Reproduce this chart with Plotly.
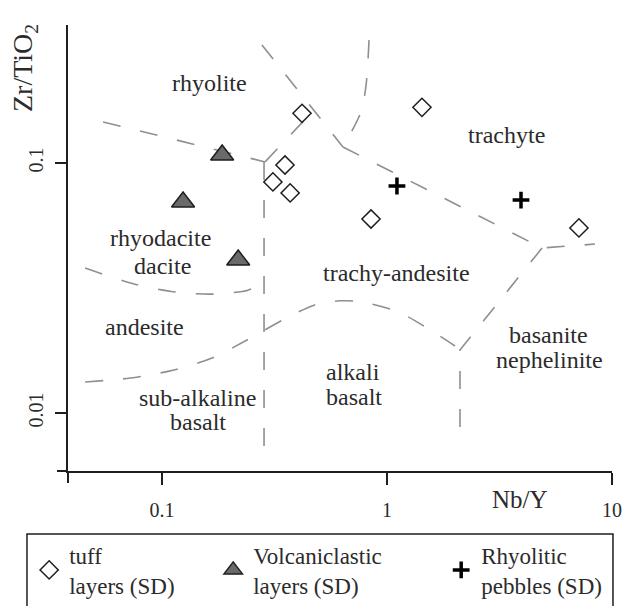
import plotly.graph_objects as go

# ---- samples (Nb/Y, Zr/TiO2) ----
tuff_nby = [0.419, 0.352, 0.311, 0.371, 1.43, 0.849, 7.13]
tuff_zr = [0.158, 0.0982, 0.0840, 0.0759, 0.167, 0.0597, 0.0550]
volc_nby = [0.185, 0.124, 0.218]
volc_zr = [0.1076, 0.0698, 0.0409]
peb_nby = [1.107, 3.94]
peb_zr = [0.0809, 0.0711]

# ---- field boundaries (Winchester & Floyd), polylines in data units ----
rhy_rd_x = [0.0547, 0.287]
rhy_rd_y = [0.146, 0.101]
rhy_cp_x = [0.278, 0.637]
rhy_cp_y = [0.2965, 0.1159]
cp_tr_x = [0.832, 0.807, 0.766, 0.637]
cp_tr_y = [0.310, 0.205, 0.160, 0.1159]
tr_ta_x = [0.637, 4.89, 8.40]
tr_ta_y = [0.1159, 0.0457, 0.0474]
bsn_x = [4.89, 2.11, 2.11]
bsn_y = [0.0457, 0.01786, 0.00745]
rd_and_x = [0.0455, 0.0751, 0.1143, 0.1687, 0.241, 0.273, 0.281]
rd_and_y = [0.0380, 0.0328, 0.0305, 0.0299, 0.0310, 0.0328, 0.0356]
sub_alk_x = [0.284, 0.284]
sub_alk_y = [0.101, 0.00679]
rhy_ta_x = [0.287, 0.464]
rhy_ta_y = [0.101, 0.160]
arc_x = [0.0455, 0.0721, 0.113, 0.1668, 0.2438, 0.352, 0.474, 0.618, 0.774, 1.119, 1.634, 2.005]
arc_y = [0.0133, 0.0138, 0.01486, 0.0166, 0.0198, 0.0238, 0.0270, 0.0281, 0.0278, 0.0254, 0.0209, 0.01854]

boundaries = [
    (rhy_rd_x, rhy_rd_y, "linear"),
    (rhy_cp_x, rhy_cp_y, "linear"),
    (cp_tr_x, cp_tr_y, "spline"),
    (tr_ta_x, tr_ta_y, "linear"),
    (bsn_x, bsn_y, "linear"),
    (rd_and_x, rd_and_y, "spline"),
    (sub_alk_x, sub_alk_y, "linear"),
    (rhy_ta_x, rhy_ta_y, "linear"),
    (arc_x, arc_y, "spline"),
]

x_ticks = [0.1, 1, 10]
x_ticktext = ["0.1", "1", "10"]
y_ticks = [0.01, 0.1]
y_ticktext = ["0.01", "0.1"]

# field labels: (text, log10 Nb/Y, log10 Zr/TiO2)
field_labels = [
    ("rhyolite", -0.787, -0.68),
    ("trachyte", 0.529, -0.888),
    ("rhyodacite", -1.009, -1.300),
    ("dacite", -1.0, -1.410),
    ("trachy-andesite", 0.044, -1.44),
    ("andesite", -1.076, -1.656),
    ("sub-alkaline", -0.844, -1.94),
    ("basalt", -0.84, -2.036),
    ("alkali", -0.151, -1.836),
    ("basalt", -0.147, -1.936),
    ("basanite", 0.716, -1.688),
    ("nephelinite", 0.72, -1.788),
]

SERIF = "Liberation Serif"
TXT = "#2b2b2b"
AX = "#1e1e1e"
DASHC = "#8f8f8f"

fig = go.Figure()

for bx, by, shp in boundaries:
    fig.add_trace(go.Scatter(
        x=bx, y=by, mode="lines", showlegend=False, hoverinfo="skip",
        line=dict(color=DASHC, width=1.6, dash="18px,20px", shape=shp, smoothing=0.8),
    ))

fig.add_trace(go.Scatter(
    x=tuff_nby, y=tuff_zr, mode="markers", name="tuff<br>layers (SD)", legend="legend",
    marker=dict(symbol="diamond-open", size=14, color=AX, line=dict(width=1.5, color=AX)),
))
fig.add_trace(go.Scatter(
    x=volc_nby, y=volc_zr, mode="markers", name="Volcaniclastic<br>layers (SD)", legend="legend2",
    marker=dict(symbol="triangle-up", size=20, color="#6a6a6a", line=dict(width=1.5, color=AX)),
))
fig.add_trace(go.Scatter(
    x=peb_nby, y=peb_zr, mode="markers", name="Rhyolitic<br>pebbles (SD)", legend="legend3",
    marker=dict(symbol="cross-thin-open", size=12, color="black", line=dict(width=3.5, color="black")),
))

annotations = []
for t, lx, ly in field_labels:
    annotations.append(dict(x=lx, y=ly, xref="x", yref="y", text=t, showarrow=False,
                            font=dict(family=SERIF, size=24, color=TXT),
                            xanchor="center", yanchor="middle"))
annotations.append(dict(x=0.831, y=-0.065, xref="paper", yref="paper", text="Nb/Y",
                        showarrow=False, font=dict(family=SERIF, size=25, color=TXT),
                        xanchor="center", yanchor="middle"))
annotations.append(dict(x=-0.079, y=0.9036, xref="paper", yref="paper", text="Zr/TiO<sub>2</sub>",
                        showarrow=False, textangle=-90, font=dict(family=SERIF, size=28, color=TXT),
                        xanchor="center", yanchor="middle"))

shapes = [
    # axis cross extensions
    dict(type="line", xref="paper", yref="paper", x0=-0.0202, x1=0, y0=0, y1=0,
         line=dict(color=AX, width=2)),
    dict(type="line", xref="paper", yref="paper", x0=0, x1=0, y0=0, y1=-0.0269,
         line=dict(color=AX, width=2)),
    # legend frame
    dict(type="rect", xref="paper", yref="paper", x0=-0.0754, x1=1.0018, y0=-0.40, y1=-0.1413,
         line=dict(color=AX, width=1.5)),
]

legend_common = dict(yanchor="middle", y=-0.222, xanchor="left", bgcolor="rgba(0,0,0,0)",
                     borderwidth=0, font=dict(family=SERIF, size=23, color=TXT), valign="middle")

fig.update_layout(
    width=622, height=606, autosize=False,
    margin=dict(l=68, r=10, t=25, b=135, autoexpand=False),
    paper_bgcolor="white", plot_bgcolor="white",
    showlegend=True,
    legend=dict(x=-0.0714, **legend_common),
    legend2=dict(x=0.2669, **legend_common),
    legend3=dict(x=0.686, **legend_common),
    annotations=annotations,
    shapes=shapes,
    xaxis=dict(type="log", range=[-1.418, 1.0], showgrid=False, zeroline=False,
               showline=True, linecolor=AX, linewidth=2, mirror=False,
               ticks="outside", ticklen=12, tickwidth=2, tickcolor=AX,
               tickvals=x_ticks, ticktext=x_ticktext, ticklabelstandoff=8,
               ticklabeloverflow="allow",
               tickfont=dict(family=SERIF, size=20, color=TXT)),
    yaxis=dict(type="log", range=[-2.232, -0.448], showgrid=False, zeroline=False,
               showline=True, linecolor=AX, linewidth=2, mirror=False,
               ticks="outside", ticklen=11, tickwidth=2, tickcolor=AX,
               tickvals=y_ticks, ticktext=y_ticktext, tickangle=-90, ticklabelstandoff=4,
               tickfont=dict(family=SERIF, size=20, color=TXT)),
)

# remove the default 8px body margin so the figure fills the window exactly
fig.write_html("out.html",
               config={"displayModeBar": False},
               post_script="document.body.style.margin='0';document.body.style.overflow='hidden';")
